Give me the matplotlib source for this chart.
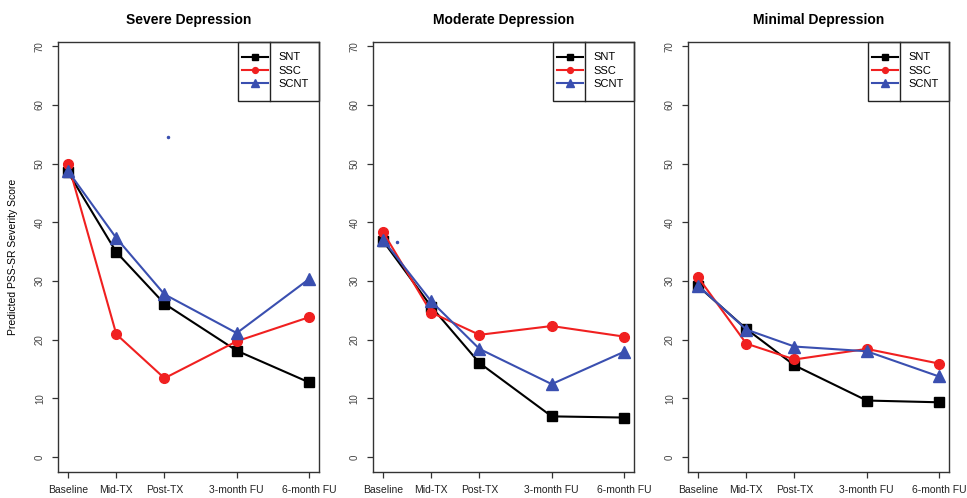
import matplotlib
matplotlib.use("Agg")
import matplotlib.pyplot as plt
from matplotlib.patches import Rectangle

plt.rcParams["font.family"] = ["Liberation Sans", "DejaVu Sans"]

# time points (x positions follow the uneven spacing of the original)
timepoints = ["Baseline", "Mid-TX", "Post-TX", "3-month FU", "6-month FU"]
time_pos = [0, 1, 2, 3.5, 5]

panel_titles = ["Severe Depression", "Moderate Depression", "Minimal Depression"]
groups = ["SNT", "SSC", "SCNT"]

# predicted scores per panel
severe_snt = [48.5, 34.9, 26.1, 18.1, 12.7]
severe_ssc = [50.0, 20.9, 13.4, 19.7, 23.8]
severe_scnt = [48.7, 37.3, 27.7, 21.1, 30.3]

moderate_snt = [36.8, 25.6, 16.0, 6.9, 6.7]
moderate_ssc = [38.3, 24.6, 20.8, 22.3, 20.5]
moderate_scnt = [37.0, 26.5, 18.4, 12.4, 17.9]

minimal_snt = [29.1, 21.8, 15.6, 9.6, 9.3]
minimal_ssc = [30.6, 19.3, 16.6, 18.4, 15.9]
minimal_scnt = [29.2, 21.7, 18.8, 18.0, 13.7]

# stray single points visible in the original plots
stray_x = [2.07, 0.28, None]
stray_y = [54.6, 36.6, None]

panel_data = [
    (severe_snt, severe_ssc, severe_scnt),
    (moderate_snt, moderate_ssc, moderate_scnt),
    (minimal_snt, minimal_ssc, minimal_scnt),
]

colors = ["black", "#f02020", "#3a4fb0"]
markers = ["s", "o", "^"]
msizes = [7.5, 7, 8.5]

fig = plt.figure(figsize=(9.67, 4.98), dpi=100)
lefts = [0.060, 0.3857, 0.7115]

for i, (title, series) in enumerate(zip(panel_titles, panel_data)):
    ax = fig.add_axes([lefts[i], 0.052, 0.270, 0.8635])
    handles = []
    for vals, name, c, m, ms in zip(series, groups, colors, markers, msizes):
        (h,) = ax.plot(time_pos, vals, color=c, marker=m, markersize=ms,
                       linewidth=1.5, label=name)
        handles.append(h)
    if stray_x[i] is not None:
        ax.plot([stray_x[i]], [stray_y[i]], marker="o", markersize=1.5,
                color=colors[2], linestyle="none")

    ax.set_xlim(-0.21, 5.21)
    ax.set_ylim(-2.6, 70.7)
    ax.set_xticks(time_pos)
    ax.set_xticklabels(timepoints, fontsize=7.5, color="#222222")
    ax.set_yticks(range(0, 71, 10))
    ax.set_yticklabels([str(v) for v in range(0, 71, 10)], rotation=90,
                       va="center", fontsize=7, color="#444444")
    ax.tick_params(axis="both", direction="out", length=4.5, width=0.9,
                   color="#333333")
    ax.tick_params(axis="x", pad=5)
    ax.tick_params(axis="y", pad=5)
    for sp in ax.spines.values():
        sp.set_linewidth(1.0)
        sp.set_color("#333333")
    ax.set_title(title, fontsize=10, fontweight="bold", pad=13)
    if i == 0:
        ax.set_ylabel("Predicted PSS-SR Severity Score", fontsize=7.5,
                      labelpad=12)

    # legend box with divider, as in the original
    ax.add_patch(Rectangle((0.69, 0.863), 0.31, 0.137, transform=ax.transAxes,
                           fill=False, edgecolor="#222222", linewidth=1.0,
                           clip_on=False))
    ax.plot([0.813, 0.813], [0.863, 1.0], transform=ax.transAxes,
            color="#222222", linewidth=1.0, clip_on=False)
    ax.legend(handles=handles, loc="upper left", bbox_to_anchor=(0.675, 0.994),
              frameon=False, fontsize=8, markerscale=0.6, handlelength=2.3,
              handletextpad=1.0, labelspacing=0.3, borderaxespad=0.3)

fig.savefig("out.png", dpi=100)
